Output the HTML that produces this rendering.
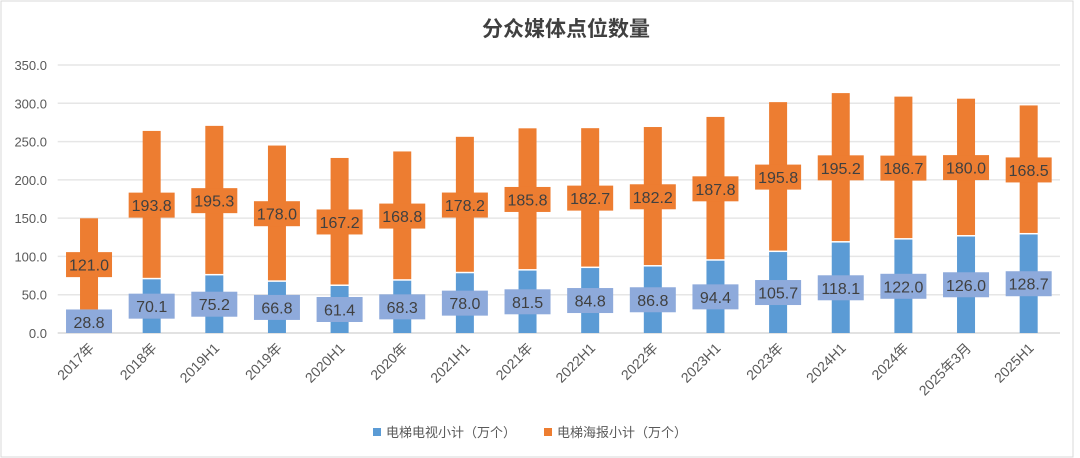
<!DOCTYPE html>
<html><head><meta charset="utf-8">
<style>
html,body{margin:0;padding:0;background:#fff;}
svg{display:block;font-family:"Liberation Sans","Noto Sans CJK SC",sans-serif;}
</style></head>
<body>
<svg id="chart" width="1080" height="458" viewBox="0 0 1080 458">
<rect x="1" y="1" width="1072" height="456" fill="#fff" stroke="#d9d9d9"/>
<text x="566" y="36" text-anchor="middle" font-size="21" font-weight="bold" fill="#404040">分众媒体点位数量</text>
<g id="grid"></g><g id="bars"></g><g id="labels"></g><g id="xlabels"></g>
<g>
<rect x="373" y="428" width="8" height="8" fill="#5b9bd5"/>
<text x="386" y="437" font-size="13" fill="#595959">电梯电视小计（万个）</text>
<rect x="544" y="428" width="8" height="8" fill="#ed7d31"/>
<text x="557" y="437" font-size="13" fill="#595959">电梯海报小计（万个）</text>
</g>
</svg>
<script>
const categories=["2017年","2018年","2019H1","2019年","2020H1","2020年","2021H1","2021年","2022H1","2022年","2023H1","2023年","2024H1","2024年","2025年3月","2025H1"];
const tvValues=[28.8,70.1,75.2,66.8,61.4,68.3,78.0,81.5,84.8,86.8,94.4,105.7,118.1,122.0,126.0,128.7];
const posterValues=[121.0,193.8,195.3,178.0,167.2,168.8,178.2,185.8,182.7,182.2,187.8,195.8,195.2,186.7,180.0,168.5];
const yTicks=[0,50,100,150,200,250,300,350];
const NS="http://www.w3.org/2000/svg";
const plotL=57.7,plotR=1060,y0=333,yTop=65,yMax=350;
function yS(v){return y0-(v/yMax)*(y0-yTop);}
function xS(i){const w=(plotR-plotL)/categories.length;return plotL+w*(i+0.5);}
function mk(tag,attrs,parent){const e=document.createElementNS(NS,tag);for(const k in attrs)e.setAttribute(k,attrs[k]);parent.appendChild(e);return e;}
const grid=document.getElementById('grid'),bars=document.getElementById('bars'),labels=document.getElementById('labels'),xl=document.getElementById('xlabels');
yTicks.forEach(t=>{
 const l=mk('line',{x1:plotL,x2:plotR,y1:yS(t),y2:yS(t),stroke:t===0?'#d9d9d9':'#e6e6e6','stroke-width':1.5},grid);
 
 
 const tx=mk('text',{x:47,y:yS(t)+5,'text-anchor':'end','font-size':13,fill:'#595959'},grid);
 tx.textContent=t.toFixed(1);
 
 
});
const bw=18;
function label(cx,cy,val,fill,name){
 const w=46,h=25;
 const top=Math.max(cy-h/2,0),bot=Math.min(cy+h/2,y0);
 const r=mk('rect',{x:cx-w/2,y:top,width:w,height:bot-top,fill:fill},labels);
 
 
 const t=mk('text',{x:cx,y:cy+6,'text-anchor':'middle','font-size':16,fill:'#404040'},labels);
 t.textContent=val.toFixed(1);
 
 
}
categories.forEach((c,i)=>{
 const cx=xS(i),tv=tvValues[i],po=posterValues[i];
 const b1=mk('rect',{x:cx-bw/2,y:yS(tv),width:bw,height:y0-yS(tv),fill:'#5b9bd5'},bars);
 
 
 const b2=mk('rect',{x:cx-bw/2,y:yS(tv+po),width:bw,height:yS(tv)-yS(tv+po)-1.5,fill:'#ed7d31'},bars);
 
 
 label(cx,yS(tv/2),tv,'#8eaadb','label-tv');
 label(cx,yS(tv+po/2),po,'#ed7d31','label-poster');
 const t=mk('text',{x:cx+6,y:349,'text-anchor':'end','font-size':14,fill:'#595959',transform:`rotate(-45 ${cx+6} 349)`},xl);
 t.textContent=c;
 
 
});
</script>
</body></html>
